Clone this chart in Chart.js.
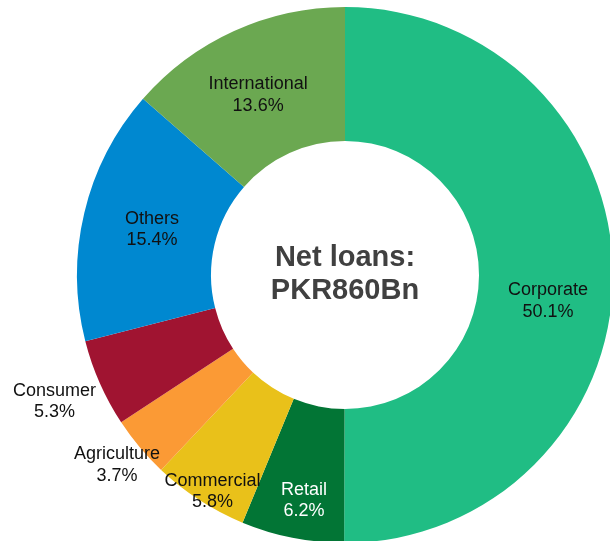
<!DOCTYPE html>
<html>
<head>
<meta charset="utf-8">
<script src="https://cdn.jsdelivr.net/npm/chart.js@4/dist/chart.umd.min.js"></script>
<style>
  html, body { margin: 0; padding: 0; background: #ffffff; overflow: hidden; width: 610px; height: 541px; }
  #c { position: absolute; left: 0; top: 0; }
</style>
</head>
<body>
<canvas id="c" width="620" height="560"></canvas>
<script>
// Loan book split by segment (percent of net loans)
const categories = ['Corporate', 'Retail', 'Commercial', 'Agriculture', 'Consumer', 'Others', 'International'];
const shares = [50.1, 6.2, 5.8, 3.7, 5.3, 15.4, 13.6];
const sliceColors = ['#20BD84', '#027535', '#E9C11A', '#FB9A35', '#A01431', '#0088D0', '#6BA851'];
const labelColors = ['#111111', '#FFFFFF', '#111111', '#111111', '#111111', '#111111', '#111111'];
const centerLines = ['Net loans:', 'PKR860Bn'];

// Label placement: radius as a fraction of the outer radius, plus a small angular nudge (degrees)
const labelRadius = [0.764, 0.855, 0.946, 1.107, 1.182, 0.740, 0.746];
const labelNudge = [7.2, -1.0, -1.4, 0.2, 0.3, 0.0, -1.3];

const sliceLabels = {
  id: 'sliceLabels',
  afterDatasetsDraw(chart) {
    const ctx = chart.ctx;
    const meta = chart.getDatasetMeta(0);
    ctx.save();
    ctx.font = '18px "Liberation Sans", Arial, sans-serif';
    ctx.textAlign = 'center';
    ctx.textBaseline = 'middle';
    meta.data.forEach((arc, i) => {
      const p = arc.getProps(['x', 'y', 'startAngle', 'endAngle', 'outerRadius'], true);
      const a = (p.startAngle + p.endAngle) / 2 + labelNudge[i] * Math.PI / 180;
      const r = p.outerRadius * labelRadius[i];
      const cx = p.x + Math.cos(a) * r;
      const cy = p.y + Math.sin(a) * r;
      ctx.fillStyle = labelColors[i];
      ctx.fillText(categories[i], cx, cy - 10.5);
      ctx.fillText(shares[i].toFixed(1) + '%', cx, cy + 11);
    });
    // centre caption
    const c = meta.data[0];
    ctx.font = 'bold 29px "Liberation Sans", Arial, sans-serif';
    ctx.fillStyle = '#404040';
    ctx.fillText(centerLines[0], c.x, c.y - 17);
    ctx.fillText(centerLines[1], c.x, c.y + 16);
    ctx.restore();
  }
};

new Chart(document.getElementById('c'), {
  type: 'doughnut',
  data: {
    labels: categories,
    datasets: [{
      data: shares,
      backgroundColor: sliceColors,
      borderWidth: 0
    }]
  },
  options: {
    responsive: false,
    animation: false,
    cutout: '50%',
    layout: { padding: { left: 77, top: 7, right: 7, bottom: 17 } },
    plugins: {
      legend: { display: false },
      tooltip: { enabled: false }
    }
  },
  plugins: [sliceLabels]
});
</script>
</body>
</html>
